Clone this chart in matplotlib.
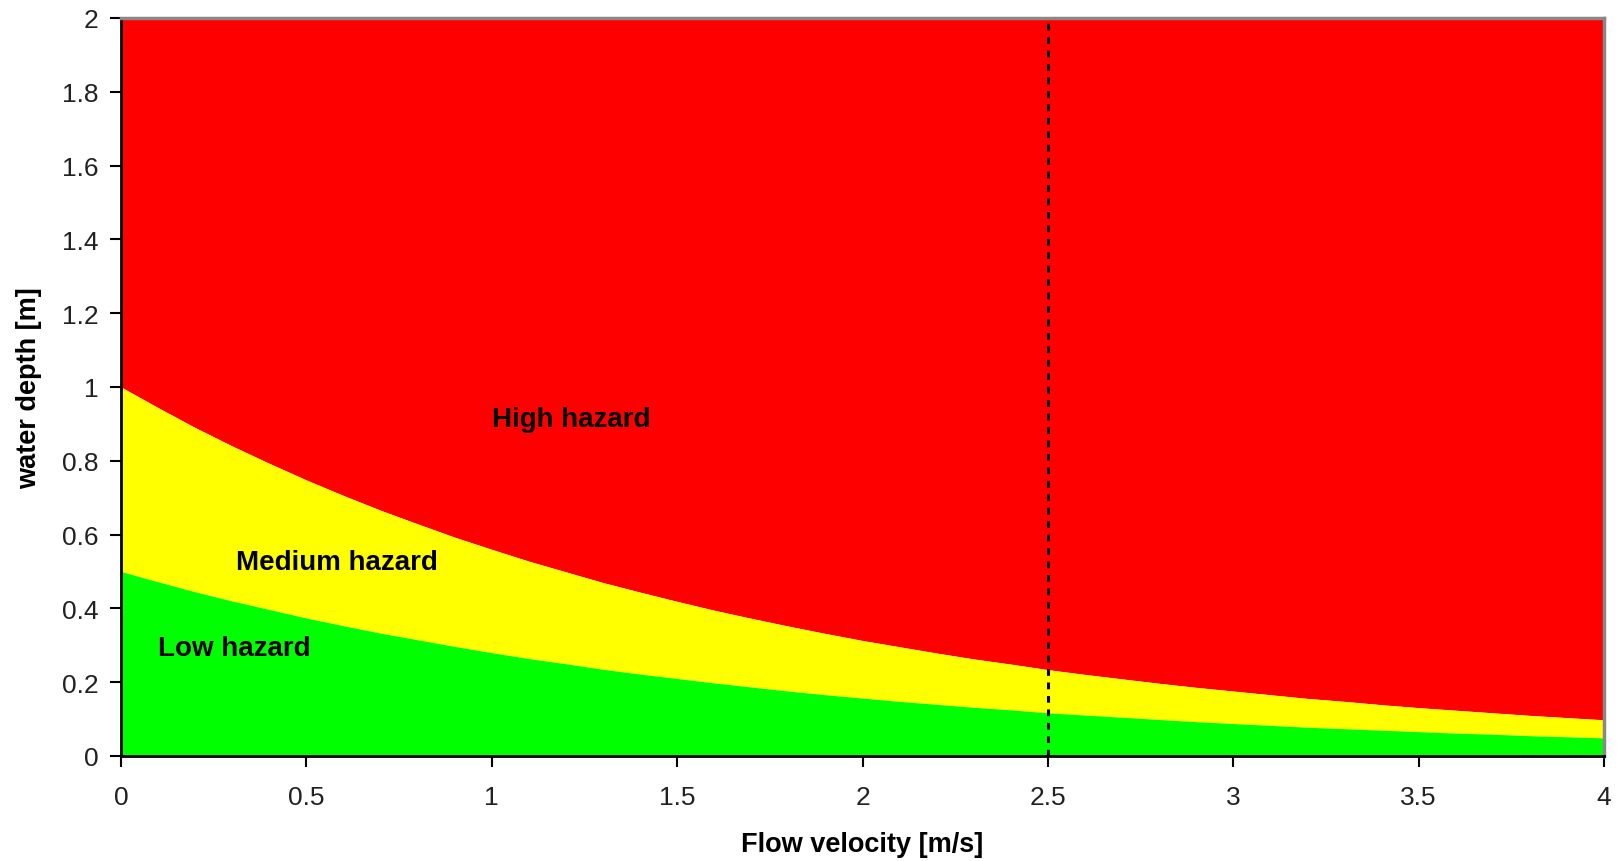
import matplotlib
matplotlib.use("Agg")
import matplotlib.pyplot as plt

plt.rcParams['font.family'] = ['Liberation Sans', 'DejaVu Sans']

velocity = [0.0, 0.1, 0.2, 0.3, 0.4, 0.5, 0.6, 0.7, 0.8, 0.9, 1.0,
            1.1, 1.2, 1.3, 1.4, 1.5, 1.6, 1.7, 1.8, 1.9, 2.0,
            2.1, 2.2, 2.3, 2.4, 2.5, 2.6, 2.7, 2.8, 2.9, 3.0,
            3.1, 3.2, 3.3, 3.4, 3.5, 3.6, 3.7, 3.8, 3.9, 4.0]
medium_upper = [1.000, 0.944, 0.890, 0.840, 0.793, 0.748, 0.706, 0.666, 0.629, 0.593, 0.560,
                0.528, 0.499, 0.470, 0.444, 0.419, 0.395, 0.373, 0.352, 0.332, 0.313,
                0.296, 0.279, 0.263, 0.249, 0.234, 0.221, 0.209, 0.197, 0.186, 0.176,
                0.166, 0.156, 0.148, 0.139, 0.131, 0.124, 0.117, 0.110, 0.104, 0.098]
low_upper = [0.500, 0.472, 0.445, 0.420, 0.397, 0.374, 0.353, 0.333, 0.315, 0.297, 0.280,
             0.264, 0.250, 0.235, 0.222, 0.210, 0.198, 0.187, 0.176, 0.166, 0.157,
             0.148, 0.140, 0.132, 0.125, 0.117, 0.111, 0.105, 0.099, 0.093, 0.088,
             0.083, 0.078, 0.074, 0.070, 0.066, 0.062, 0.059, 0.055, 0.052, 0.049]
depth_max = 2.0
threshold_velocity = 2.5

xticks = [0, 0.5, 1, 1.5, 2, 2.5, 3, 3.5, 4]
xtick_labels = ['0', '0.5', '1', '1.5', '2', '2.5', '3', '3.5', '4']
yticks = [0, 0.2, 0.4, 0.6, 0.8, 1, 1.2, 1.4, 1.6, 1.8, 2]
ytick_labels = ['0', '0.2', '0.4', '0.6', '0.8', '1', '1.2', '1.4', '1.6', '1.8', '2']

fig = plt.figure(figsize=(16.19, 8.62), dpi=100)
ax = fig.add_axes([121/1619, 1 - 757/862, (1604 - 121)/1619, (757 - 19)/862])

ax.fill_between(velocity, medium_upper, depth_max, color='#FF0000', lw=0)
ax.fill_between(velocity, low_upper, medium_upper, color='#FFFF00', lw=0)
ax.fill_between(velocity, 0, low_upper, color='#00FF00', lw=0)

ax.plot([threshold_velocity, threshold_velocity], [0, depth_max], color='black',
        lw=2.2, linestyle=(0, (2.2, 2.2)))

ax.set_xlim(0, 4)
ax.set_ylim(0, 2)
ax.set_xticks(xticks)
ax.set_xticklabels(xtick_labels)
ax.set_yticks(yticks)
ax.set_yticklabels(ytick_labels)
ax.tick_params(axis='both', direction='out', length=8, width=1.5, colors='black',
               labelsize=19, labelcolor='#222222')
ax.tick_params(axis='x', pad=13)
ax.tick_params(axis='y', pad=8)

for side in ['left', 'bottom']:
    ax.spines[side].set_color('black')
    ax.spines[side].set_linewidth(2)
for side in ['top', 'right']:
    ax.spines[side].set_color('#888888')
    ax.spines[side].set_linewidth(2.5)

ax.text(1.0, 0.913, 'High hazard', fontsize=20, fontweight='bold', va='center', ha='left')
ax.text(0.31, 0.525, 'Medium hazard', fontsize=20, fontweight='bold', va='center', ha='left')
ax.text(0.10, 0.293, 'Low hazard', fontsize=20, fontweight='bold', va='center', ha='left')

fig.text((121 + 1604) / 2 / 1619, 1 - 845/862, 'Flow velocity [m/s]', fontsize=19.5,
         fontweight='bold', ha='center', va='center')
fig.text(29/1619, 1 - 388/862, 'water depth [m]', fontsize=19.5, fontweight='bold',
         ha='center', va='center', rotation=90)

fig.savefig('out.png', dpi=100)
